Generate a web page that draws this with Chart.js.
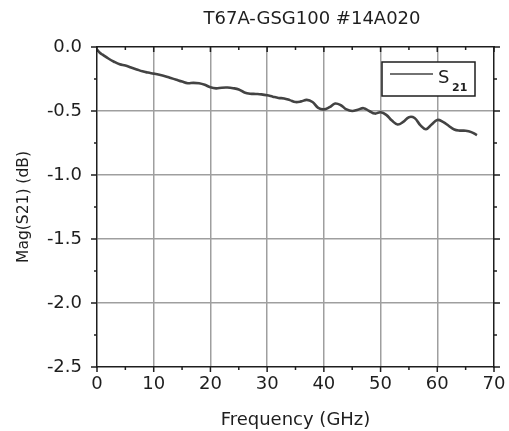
<!DOCTYPE html>
<html>
<head>
<meta charset="utf-8">
<script src="https://cdn.jsdelivr.net/npm/chart.js@4/dist/chart.umd.min.js"></script>
<style>
    html, body { margin: 0; padding: 0; background: #fff; }
    #wrap { width: 509px; height: 431px; }
</style>
</head>
<body>
<div id="wrap"><canvas id="s21Chart" width="509" height="431"></canvas></div>
<script>
// measured insertion loss, frequency in GHz
const freqGHz = [
    0, 0.5, 1, 2, 3, 4, 5, 6, 7, 8, 9, 10, 11, 12, 13, 14, 15, 16, 17, 18, 19, 20,
    21, 22, 23, 24, 25, 26, 27, 28, 29, 30, 31, 32, 33, 34, 35, 36, 37, 38, 39, 40,
    41, 42, 43, 44, 45, 46, 47, 48, 49, 50, 51, 52, 53, 54, 55, 56, 57, 58, 59, 60,
    61, 62, 63, 64, 65, 66, 67
];
const s21dB = [
    -0.02, -0.045, -0.06, -0.09, -0.115, -0.135, -0.145, -0.16, -0.175, -0.19, -0.2, -0.208,
    -0.217, -0.228, -0.242, -0.256, -0.27, -0.283, -0.28, -0.283, -0.295, -0.315,
    -0.323, -0.318, -0.317, -0.322, -0.332, -0.355, -0.365, -0.367, -0.37, -0.377,
    -0.388, -0.398, -0.402, -0.415, -0.43, -0.425, -0.413, -0.43, -0.475, -0.487,
    -0.47, -0.442, -0.455, -0.488, -0.5, -0.49, -0.478, -0.5, -0.52, -0.51,
    -0.53, -0.575, -0.605, -0.585, -0.548, -0.555, -0.61, -0.642, -0.605, -0.57,
    -0.585, -0.615, -0.645, -0.653, -0.654, -0.665, -0.688
];
const xTicksMajor = [0, 10, 20, 30, 40, 50, 60, 70];
const xTicksMinor = [5, 15, 25, 35, 45, 55, 65];
const yTicksMajor = [0, -0.5, -1.0, -1.5, -2.0, -2.5];
const yTicksMinor = [-0.25, -0.75, -1.25, -1.75, -2.25];

const FONT = 'DejaVu Sans';
const INK = '#1e1e1e';

// frame ticks: left/bottom/right point out, top points in
const frameTicks = {
    id: 'frameTicks',
    afterDraw(chart) {
        const { ctx, chartArea: a, scales } = chart;
        const x = scales.x, y = scales.y;
        ctx.save();
        ctx.strokeStyle = INK;
        ctx.lineWidth = 1.5;
        ctx.beginPath();
        const xt = (vals, len) => vals.forEach(v => {
            const px = x.getPixelForValue(v);
            ctx.moveTo(px, a.bottom); ctx.lineTo(px, a.bottom + len);
            ctx.moveTo(px, a.top); ctx.lineTo(px, a.top + len);
        });
        const yt = (vals, len) => vals.forEach(v => {
            const py = y.getPixelForValue(v);
            ctx.moveTo(a.left, py); ctx.lineTo(a.left - len, py);
            ctx.moveTo(a.right, py); ctx.lineTo(a.right + len, py);
        });
        xt(xTicksMajor, 5);
        xt(xTicksMinor, 3);
        yt(yTicksMajor, 6);
        yt(yTicksMinor, 3);
        ctx.stroke();
        ctx.restore();
    }
};

// chart title, sits right of centre
const titleText = {
    id: 'titleText',
    afterDraw(chart) {
        const ctx = chart.ctx;
        ctx.save();
        ctx.font = '18px "' + FONT + '"';
        ctx.fillStyle = INK;
        ctx.textAlign = 'center';
        ctx.textBaseline = 'middle';
        ctx.fillText('T67A-GSG100 #14A020', 312, 19);
        ctx.restore();
    }
};

// boxed legend with subscript label
const boxLegend = {
    id: 'boxLegend',
    afterDraw(chart) {
        const { ctx, chartArea: a } = chart;
        const ds = chart.data.datasets[0];
        const right = a.right - 19, top = a.top + 15;
        const w = 93, h = 34;
        const left = right - w;
        ctx.save();
        ctx.fillStyle = '#fff';
        ctx.fillRect(left, top, w, h);
        ctx.strokeStyle = INK;
        ctx.lineWidth = 1.5;
        ctx.strokeRect(left, top, w, h);
        ctx.strokeStyle = ds.borderColor;
        ctx.lineWidth = 1.5;
        ctx.beginPath();
        ctx.moveTo(left + 8, top + 12);
        ctx.lineTo(left + 51, top + 12);
        ctx.stroke();
        ctx.fillStyle = INK;
        ctx.textBaseline = 'alphabetic';
        ctx.font = '18px "' + FONT + '"';
        ctx.fillText(ds.label[0], left + 56, top + 21);
        ctx.font = 'bold 11px "' + FONT + '"';
        ctx.fillText(ds.label.slice(1), left + 70, top + 29);
        ctx.restore();
    }
};

const gridColor = '#9f9f9f';

new Chart(document.getElementById('s21Chart').getContext('2d'), {
    type: 'line',
    data: {
        labels: freqGHz,
        datasets: [{
            label: 'S21',
            data: freqGHz.map((f, i) => ({ x: f, y: s21dB[i] })),
            borderColor: '#434343',
            borderWidth: 2.6,
            pointRadius: 0,
            tension: 0.4,
            fill: false
        }]
    },
    options: {
        responsive: false,
        animation: false,
        layout: { padding: 0 },
        plugins: {
            legend: { display: false },
            tooltip: { enabled: false },
            title: { display: false }
        },
        scales: {
            x: {
                type: 'linear',
                position: 'bottom',
                min: 0,
                max: 70,
                afterBuildTicks: s => { s.ticks = xTicksMajor.map(v => ({ value: v })); },
                ticks: { color: INK, font: { family: FONT, size: 18 }, padding: 7, maxRotation: 0 },
                grid: {
                    drawTicks: false,
                    lineWidth: 1.5,
                    color: c => (c.index === 0 || c.index === xTicksMajor.length - 1) ? 'rgba(0,0,0,0)' : gridColor
                },
                border: { display: true, color: INK, width: 1.5 },
                title: { display: true, text: 'Frequency (GHz)', color: INK, font: { family: FONT, size: 18 }, padding: { top: 0, bottom: 0 } },
                afterFit: s => { s.height = 64; s.paddingLeft = 0; s.paddingRight = 0; }
            },
            y: {
                type: 'linear',
                position: 'left',
                min: -2.5,
                max: 0,
                afterBuildTicks: s => { s.ticks = yTicksMajor.map(v => ({ value: v })); },
                ticks: { color: INK, font: { family: FONT, size: 18 }, padding: 15, callback: v => v.toFixed(1) },
                grid: {
                    drawTicks: false,
                    lineWidth: 1.5,
                    color: c => (c.index === 0 || c.index === yTicksMajor.length - 1) ? 'rgba(0,0,0,0)' : gridColor
                },
                border: { display: true, color: INK, width: 1.5 },
                title: { display: true, text: 'Mag(S21) (dB)', color: INK, font: { family: FONT, size: 15.5 }, padding: { top: 15, bottom: 0 } },
                afterFit: s => { s.width = 97; s.paddingTop = 0; s.paddingBottom = 0; }
            },
            x2: {
                type: 'linear',
                position: 'top',
                min: 0,
                max: 70,
                ticks: { display: false },
                grid: { display: false, drawTicks: false },
                border: { display: true, color: INK, width: 1.5 },
                afterFit: s => { s.height = 47; }
            },
            y2: {
                type: 'linear',
                position: 'right',
                min: -2.5,
                max: 0,
                ticks: { display: false },
                grid: { display: false, drawTicks: false },
                border: { display: true, color: INK, width: 1.5 },
                afterFit: s => { s.width = 15; }
            }
        }
    },
    plugins: [frameTicks, titleText, boxLegend]
});
</script>
</body>
</html>
